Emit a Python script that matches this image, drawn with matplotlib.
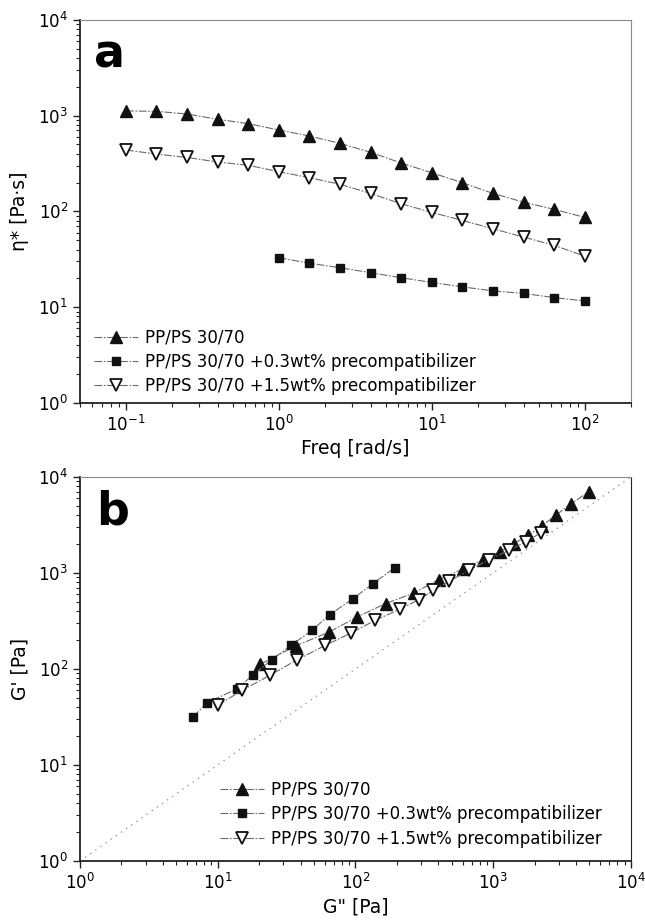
import matplotlib
matplotlib.use("Agg")
import matplotlib.pyplot as plt
import numpy as np

plt.rcParams['font.family'] = ['DejaVu Sans']

# panel a: complex viscosity vs frequency
freq = [0.1, 0.158, 0.251, 0.398, 0.631, 1.0, 1.58, 2.51, 3.98, 6.31,
        10.0, 15.8, 25.1, 39.8, 63.1, 100.0]
eta_pp = [1120, 1110, 1040, 916, 825, 708, 613, 514, 414, 320,
          253, 200, 154, 125, 105, 86.6]
freq_03 = [1.0, 1.58, 2.51, 3.98, 6.31, 10.0, 15.8, 25.1, 39.8, 63.1, 100.0]
eta_03 = [32.8, 28.8, 25.8, 22.9, 20.3, 18.1, 16.3, 14.8, 13.9, 12.6, 11.6]
eta_15 = [438, 397, 366, 328, 303, 260, 225, 192, 154, 120,
          97.6, 80.6, 65.9, 53.9, 44.2, 34.1]

# panel b: G' vs G''
g2_pp = [20.4, 36.9, 64.7, 103, 166, 266, 404, 605, 847, 1122,
         1416, 1800, 2259, 2850, 3700, 4930]
g1_pp = [112, 174, 243, 348, 480, 619, 853, 1102, 1377, 1668,
         2023, 2467, 3089, 3990, 5275, 6980]
g2_03 = [6.64, 8.38, 13.8, 18.1, 24.8, 34.0, 48.5, 65.1, 96.3, 134, 194]
g1_03 = [31.6, 44.6, 61.9, 87.3, 125, 176, 253, 368, 541, 774, 1137]
g2_15 = [10.0, 15.1, 23.9, 37.9, 60.4, 93, 139, 210, 289, 369,
         480, 666, 938, 1304, 1738, 2212]
g1_15 = [41.9, 60, 85.9, 125, 176, 237, 321, 418, 527, 660,
         818, 1066, 1377, 1722, 2119, 2610]

labels = ['PP/PS 30/70',
          'PP/PS 30/70 +0.3wt% precompatibilizer',
          'PP/PS 30/70 +1.5wt% precompatibilizer']

line_kw = dict(color='#6a6a6a', lw=0.8, ls=(0, (7, 1.5, 1.5, 1.5)))
st_pp = dict(marker='^', ms=8.5, mfc='#111111', mec='#111111', **line_kw)
st_03 = dict(marker='s', ms=5.5, mfc='#111111', mec='#111111', **line_kw)
st_15 = dict(marker='v', ms=8.5, mfc='white', mec='#111111', mew=1.3, **line_kw)


def style_axes(ax):
    ax.set_xscale('log')
    ax.set_yscale('log')
    for s in ['top', 'right']:
        ax.spines[s].set_color('#8a8a8a')
        ax.spines[s].set_linewidth(0.8)
    for s in ['left', 'bottom']:
        ax.spines[s].set_color('#222222')
        ax.spines[s].set_linewidth(1.3)
    ax.tick_params(which='major', direction='out', length=5, width=1.0,
                   labelsize=12, color='#222222', top=False, right=False)
    ax.tick_params(which='minor', direction='out', length=3, width=0.8,
                   color='#222222', top=False, right=False)


leg_kw = dict(frameon=False, fontsize=12, handlelength=2.6, handletextpad=0.45,
              labelspacing=0.38, borderpad=0, borderaxespad=0)

fig = plt.figure(figsize=(6.45, 9.22), dpi=100)

# ---- panel a
ax1 = fig.add_axes([0.124, 0.563, 0.854, 0.4154])
ax1.plot(freq, eta_pp, label=labels[0], **st_pp)
ax1.plot(freq_03, eta_03, label=labels[1], **st_03)
ax1.plot(freq, eta_15, label=labels[2], **st_15)
style_axes(ax1)
ax1.set_xlim(0.05, 200)
ax1.set_ylim(1, 1e4)
ax1.set_xlabel('Freq [rad/s]', fontsize=13.5, labelpad=3)
ax1.set_ylabel('η* [Pa·s]', fontsize=13.5)
ax1.yaxis.set_label_coords(-0.092, 0.5)
ax1.text(0.026, 0.875, 'a', transform=ax1.transAxes, fontsize=33,
         fontweight='bold', va='baseline', ha='left')
ax1.legend(loc='lower left', bbox_to_anchor=(0.026, 0.02), **leg_kw)

# ---- panel b
ax2 = fig.add_axes([0.124, 0.0662, 0.854, 0.4165])
ax2.plot([1, 1e4], [1, 1e4], color='#8a8a8a', lw=0.9, ls=(0, (1, 4)))
ax2.plot(g2_pp, g1_pp, label=labels[0], **st_pp)
ax2.plot(g2_03, g1_03, label=labels[1], **st_03)
ax2.plot(g2_15, g1_15, label=labels[2], **st_15)
style_axes(ax2)
ax2.spines['right'].set_color('#222222')
ax2.spines['right'].set_linestyle((0, (1, 1)))
ax2.set_xlim(1, 1e4)
ax2.set_ylim(1, 1e4)
ax2.set_xlabel('G" [Pa]', fontsize=13.5, labelpad=3)
ax2.set_ylabel("G' [Pa]", fontsize=13.5)
ax2.yaxis.set_label_coords(-0.092, 0.5)
ax2.text(0.03, 0.875, 'b', transform=ax2.transAxes, fontsize=33,
         fontweight='bold', va='baseline', ha='left')
ax2.legend(loc='lower left', bbox_to_anchor=(0.255, 0.035), **leg_kw)

fig.savefig('out.png', dpi=100)
